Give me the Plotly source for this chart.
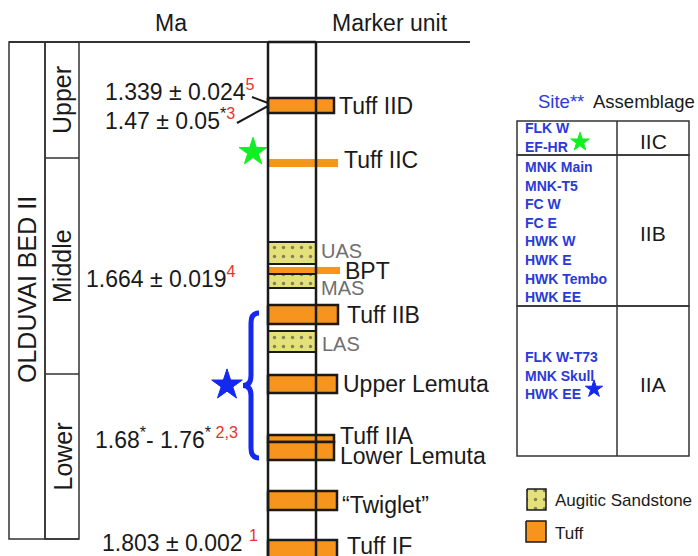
import plotly.graph_objects as go

# ---------------- data ----------------
# stratigraphic marker units (depth measured downward in the section, in figure units)
unit_names = ["Tuff IID", "Tuff IIC", "UAS", "BPT", "MAS", "Tuff IIB", "LAS",
              "Upper Lemuta", "Tuff IIA", "Lower Lemuta", "\u201cTwiglet\u201d", "Tuff IF"]
unit_top = [98, 159, 242, 267, 274, 305, 331, 375, 435, 442, 491, 540]
unit_bottom = [113, 167, 264, 274, 288, 324, 352, 393, 442, 460, 510, 575]
unit_kind = ["tuff", "thin", "sand", "thin", "sand", "tuff", "sand",
             "tuff", "tuff", "tuff", "tuff", "tuff"]
unit_extent = [334, 338, 316, 340, 316, 338, 316, 337, 334, 334, 337, 337]

# dates (Ma) with reference numbers
date_labels = ["1.339 \u00b1 0.024<sup><span style='color:#e8332a'>5</span></sup>",
               "1.47 \u00b1 0.05<sup>*<span style='color:#e8332a'>3</span></sup>",
               "1.664 \u00b1 0.019<sup><span style='color:#e8332a'>4</span></sup>",
               "1.68<sup>*</sup>- 1.76<sup>* <span style='color:#e8332a'>2,3</span></sup>",
               "1.803 \u00b1 0.002 <sup><span style='color:#e8332a'>1</span></sup>"]

# Bed II subdivisions
sub_names = ["Upper", "Middle", "Lower"]
sub_top = [42, 158, 374]
sub_bottom = [158, 374, 539]

# assemblage table
assemblages = ["IIC", "IIB", "IIA"]
assemblage_top = [121, 155, 306]
assemblage_bottom = [155, 306, 456]
assemblage_sites = [["FLK W", "EF-HR"],
                    ["MNK Main", "MNK-T5", "FC W", "FC E", "HWK W", "HWK E", "HWK Tembo", "HWK EE"],
                    ["FLK W-T73", "MNK Skull", "HWK EE"]]

# ---------------- styles / layout constants ----------------
ORANGE = "#f7941d"
SAND = "#e4e07a"
BLUE_TXT = "#2a3ad8"
BLUE = "#1428f0"
GREEN = "#10f020"
INK = "#1a1a1a"
FONT = "Liberation Sans, Arial, sans-serif"
COL_L, COL_R, COL_TOP = 268, 316, 42

fig = go.Figure()
shapes = []
ann = []


def box(x0, x1, y0, y1, fill, lw=2, pattern=None, color=INK):
    tr = go.Scatter(x=[x0, x1, x1, x0, x0], y=[y0, y0, y1, y1, y0], mode="lines",
                    fill="toself", fillcolor=fill,
                    line=dict(color=color if lw > 0 else fill, width=max(lw, 0.1)),
                    hoverinfo="skip", showlegend=False)
    if pattern:
        tr.fillpattern = pattern
    return tr


def text(x, y, s, size=23, color=INK, xanchor="left", angle=0, weight="normal"):
    ann.append(dict(x=x, y=y, xref="x", yref="y", text=s, showarrow=False,
                    xanchor=xanchor, yanchor="middle", textangle=angle,
                    font=dict(family=FONT, size=size, color=color, weight=weight)))


sand_pattern = dict(shape=".", bgcolor=SAND, fgcolor="#222222", size=9, solidity=0.12)

# header
text(153, 23, "Ma")
text(390, 23, "Marker unit", xanchor="center")
shapes.append(dict(type="line", x0=9, x1=470, y0=42, y1=42, line=dict(color="#333", width=2)))

# left Bed II boxes
shapes.append(dict(type="rect", x0=9, x1=45, y0=42, y1=539, line=dict(color="#333", width=1.5)))
shapes.append(dict(type="rect", x0=45, x1=79, y0=42, y1=539, line=dict(color="#333", width=1.5)))
for n, t, b in zip(sub_names, sub_top, sub_bottom):
    shapes.append(dict(type="line", x0=45, x1=79, y0=b, y1=b, line=dict(color="#333", width=1.5)))
    text(62, (t + b) / 2, n, size=25, xanchor="center", angle=-90)
text(27, 290, "OLDUVAI BED II", size=25, xanchor="center", angle=-90)

# column
shapes.append(dict(type="line", x0=COL_L, x1=COL_L, y0=COL_TOP, y1=560, line=dict(color=INK, width=2.5)))
shapes.append(dict(type="line", x0=COL_R, x1=COL_R, y0=COL_TOP, y1=560, line=dict(color=INK, width=2.5)))
shapes.append(dict(type="line", x0=COL_L, x1=COL_R, y0=COL_TOP, y1=COL_TOP, line=dict(color=INK, width=2.5)))

label_dy = [0, -3, -2, 0, 7, 0, 2, 0, -3, 5, 4, 5]
label_dx = [3, 4, 3, 3, 3, 7, 4, 4, 4, 4, 3, 8]
for name, t, b, k, e, dy, dx in zip(unit_names, unit_top, unit_bottom, unit_kind,
                                    unit_extent, label_dy, label_dx):
    if k == "tuff":
        fig.add_trace(box(COL_L, e, t, b, ORANGE, lw=2.5))
        text(e + dx, (t + b) / 2 + dy if b < 556 else 546, name)
    elif k == "thin":
        fig.add_trace(box(COL_L, e, t, b, ORANGE, lw=0))
        text(e + dx, (t + b) / 2 + dy, name)
    else:
        fig.add_trace(box(COL_L, e, t, b, SAND, lw=2, pattern=sand_pattern))
        text(e + dx, (t + b) / 2 + dy, name, size=20, color="#6f6f6f")

# dates
date_x = [103, 103, 84, 93, 100]
date_y = [90, 119, 277, 438, 541]
for s, x, y in zip(date_labels, date_x, date_y):
    text(x, y, s, size=23)

# connector lines to Tuff IID
shapes.append(dict(type="line", x0=252, y0=97, x1=COL_L, y1=103, line=dict(color=INK, width=2)))
shapes.append(dict(type="line", x0=237, y0=123, x1=COL_L, y1=106, line=dict(color=INK, width=2)))

# stars
fig.add_trace(go.Scatter(x=[253, 580], y=[152, 142], mode="markers",
                         marker=dict(symbol="star", size=[21, 14], color=GREEN, opacity=1,
                                     line=dict(width=1, color=GREEN)),
                         opacity=1, hoverinfo="skip", showlegend=False))
fig.add_trace(go.Scatter(x=[227, 594], y=[385, 389], mode="markers",
                         marker=dict(symbol="star", size=[23, 13], color=BLUE, opacity=1,
                                     line=dict(width=1, color=BLUE)),
                         opacity=1, hoverinfo="skip", showlegend=False))

# brace
bt, bb, bx, tip = 313, 458, 251, 243
mid = (bt + bb) / 2
brace = (f"M {bx+8},{bt} Q {bx},{bt} {bx},{bt+10} L {bx},{mid-10} Q {bx},{mid} {tip},{mid} "
         f"Q {bx},{mid} {bx},{mid+10} L {bx},{bb-10} Q {bx},{bb} {bx+8},{bb}")
shapes.append(dict(type="path", path=brace, line=dict(color=BLUE, width=5)))

# table
TX0, TXM, TX1 = 517, 617, 689
text(536, 101, "Site**", size=18.5, color=BLUE_TXT)
text(591, 101, "Assemblage", size=18.5)
shapes.append(dict(type="line", x0=TXM, x1=TXM, y0=assemblage_top[0], y1=assemblage_bottom[-1],
                   line=dict(color="#333", width=1.5)))
site_y0 = [128, 167, 357]
for a, t, b, sites, y0 in zip(assemblages, assemblage_top, assemblage_bottom, assemblage_sites, site_y0):
    shapes.append(dict(type="rect", x0=TX0, x1=TX1, y0=t, y1=b, line=dict(color="#333", width=1.5)))
    text((TXM + TX1) / 2, (t + b) / 2 + 3 if a != "IIC" else 141, a, size=21, xanchor="center")
    for i, s in enumerate(sites):
        text(523, y0 + i * 18.6, s, size=14, color=BLUE_TXT, weight="bold")

# legend
fig.add_trace(box(527, 546, 489, 510, SAND, lw=1.5, pattern=sand_pattern))
text(553, 500, "Augitic Sandstone", size=17)
fig.add_trace(box(526, 546, 521, 542, ORANGE, lw=1.5))
text(553, 533, "Tuff", size=17)

fig.update_layout(
    width=698, height=556, autosize=False,
    margin=dict(l=0, r=0, t=0, b=0, pad=0),
    paper_bgcolor="white", plot_bgcolor="white",
    xaxis=dict(range=[0, 698], visible=False, fixedrange=True),
    yaxis=dict(range=[556, 0], visible=False, fixedrange=True),
    shapes=shapes, annotations=ann, showlegend=False,
)
fig.write_html("out.html", config=dict(displayModeBar=False),
               post_script="document.body.style.margin='0';document.body.style.overflow='hidden';")
